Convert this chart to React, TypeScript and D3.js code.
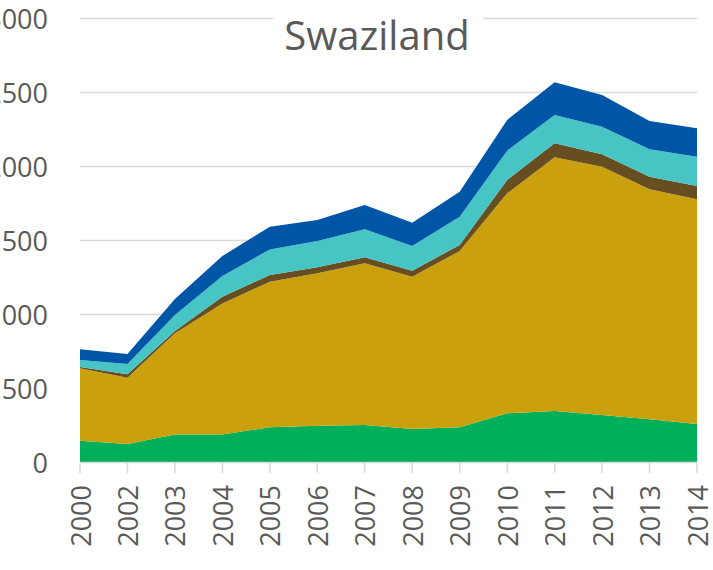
import React from "react";
import * as d3 from "d3";

const years = ["2000","2002","2003","2004","2005","2006","2007","2008","2009","2010","2011","2012","2013","2014"];
const seriesNames = ["green", "gold", "brown", "teal", "blue"];
const greenValues = [147,125,190,190,238,249,253,226,238,332,348,321,292,260];
const goldValues = [489,448,683,885,984,1029,1093,1029,1191,1487,1714,1678,1554,1518];
const brownValues = [9,23,15,45,45,41,40,41,41,90,95,83,85,90];
const tealValues = [47,69,109,140,173,178,190,167,191,198,191,187,185,198];
const blueValues = [73,68,108,135,153,142,164,157,169,207,221,214,191,192];
const yTicks = [0,500,1000,1500,2000,2500,3000];
const title = "Swaziland";

const colors = ["#00AF5A", "#CAA00D", "#674E20", "#47C4C4", "#0056A6"];

export default function App() {
  const W = 713, H = 570;
  const x = d3.scalePoint<string>().domain(years).range([80, 697]);
  const y = d3.scaleLinear().domain([0, 3000]).range([462.5, 18.5]);
  const allSeries = [greenValues, goldValues, brownValues, tealValues, blueValues];
  const rows = years.map((yr, i) => {
    const r: any = { year: yr };
    seriesNames.forEach((n, k) => (r[n] = allSeries[k][i]));
    return r;
  });
  const stacked = d3.stack<any>().keys(seriesNames)(rows);
  const area = d3
    .area<any>()
    .x((d) => x(d.data.year) as number)
    .y0((d) => y(d[0]))
    .y1((d) => y(d[1]));
  const font = "'Open Sans', sans-serif";
  const textColor = "#595959";
  const grid = "#D9D9D9";
  return (
    <svg width={W} height={H} style={{ position: "absolute", left: 0, top: 0, background: "#fff" }}>
      <rect width={W} height={H} fill="#fff" />
      {yTicks.map((t) => (
        <g key={t}>
          {t > 0 && <line x1={80} x2={697} y1={y(t)} y2={y(t)} stroke={grid} strokeWidth={1.5} />}
          <text x={48} y={y(t)} textAnchor="end" dominantBaseline="central" fontFamily={font} fontSize={27} fill={textColor}>
            {t}
          </text>
        </g>
      ))}
      {stacked.map((s, k) => (
        <path key={s.key} d={area(s) as string} fill={colors[k]} />
      ))}
      <line x1={80} x2={697} y1={y(0)} y2={y(0)} stroke={grid} strokeWidth={1.5} />
      {years.map((yr) => (
        <g key={yr}>
          <line x1={x(yr)} x2={x(yr)} y1={y(0)} y2={473} stroke={grid} strokeWidth={1.5} />
          <text
            transform={`translate(${x(yr)},485) rotate(-90)`}
            textAnchor="end"
            dominantBaseline="central"
            fontFamily={font}
            fontSize={27}
            fill={textColor}
          >
            {yr}
          </text>
        </g>
      ))}
      <rect x={273} y={0} width={210} height={60} fill="#fff" />
      <text x={377} y={50} textAnchor="middle" fontFamily={font} fontSize={40} fill={textColor}>
        {title}
      </text>
    </svg>
  );
}
